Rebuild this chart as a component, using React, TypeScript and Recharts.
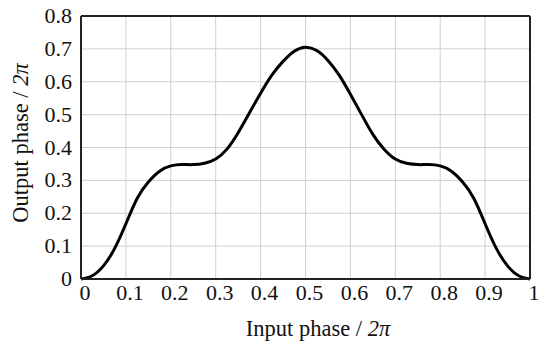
import {
  CartesianGrid,
  Line,
  LineChart,
  ReferenceLine,
  XAxis,
  YAxis
} from 'recharts';

const inputPhase = [
  0, 0.025, 0.05, 0.075, 0.1, 0.125, 0.15, 0.175, 0.2, 0.225, 0.25, 0.275, 0.3, 0.325, 0.35, 0.375, 0.4,
  0.425, 0.45, 0.475, 0.5, 0.525, 0.55, 0.575, 0.6, 0.625, 0.65, 0.675, 0.7, 0.725, 0.75, 0.775, 0.8,
  0.825, 0.85, 0.875, 0.9, 0.925, 0.95, 0.975, 1
];
const outputPhase = [
  0, 0.01, 0.04, 0.093, 0.168, 0.245, 0.295, 0.328, 0.344, 0.348, 0.348, 0.352, 0.365, 0.395, 0.445, 0.505, 0.565,
  0.62, 0.662, 0.693, 0.705, 0.695, 0.665, 0.62, 0.562, 0.5, 0.44, 0.395, 0.365, 0.352, 0.348, 0.348, 0.344,
  0.328, 0.295, 0.245, 0.168, 0.093, 0.04, 0.01, 0
];
const xTicks = [0, 0.1, 0.2, 0.3, 0.4, 0.5, 0.6, 0.7, 0.8, 0.9, 1];
const yTicks = [0, 0.1, 0.2, 0.3, 0.4, 0.5, 0.6, 0.7, 0.8];

const data = inputPhase.map((x, i) => ({ x, y: outputPhase[i] }));

const FONT = 'Liberation Serif, DejaVu Serif, serif';
const fmt = (v: number) => String(Math.round(v * 10) / 10);
const labelStyle = { fontFamily: FONT, fontSize: 22.5 };

function XTick({ x, y, payload }: any) {
  return (
    <text x={x + 4} y={y + 21} textAnchor="middle" fontFamily={FONT} fontSize={22} fill="#111">
      {fmt(payload.value)}
    </text>
  );
}

function YTick({ x, y, payload }: any) {
  return (
    <text x={x} y={y + 7} textAnchor="end" fontFamily={FONT} fontSize={22} fill="#111">
      {fmt(payload.value)}
    </text>
  );
}

function XLabel() {
  return (
    <text x={318} y={336} textAnchor="middle" style={labelStyle} fill="#111">
      Input phase / <tspan fontStyle="italic">2π</tspan>
    </text>
  );
}

function YLabel() {
  return (
    <text
      x={20}
      y={143}
      transform="rotate(-90 20 143)"
      textAnchor="middle"
      dominantBaseline="central"
      style={labelStyle}
      fill="#111"
    >
      Output phase / <tspan fontStyle="italic">2π</tspan>
    </text>
  );
}

export default function App() {
  return (
    <div style={{ position: 'absolute', left: 0, top: 0, background: '#fff', fontFamily: FONT }}>
      <LineChart
        width={541}
        height={342}
        data={data}
        margin={{ top: 16, right: 11, left: 0, bottom: 0 }}
      >
        <CartesianGrid stroke="#cfcfcf" strokeWidth={1} />
        <XAxis
          dataKey="x"
          type="number"
          domain={[0, 1]}
          ticks={xTicks}
          height={63}
          tickLine={false}
          tickSize={0}
          tickMargin={0}
          axisLine={{ stroke: '#222', strokeWidth: 2 }}
          tick={<XTick />}
          label={<XLabel />}
        />
        <YAxis
          type="number"
          domain={[0, 0.8]}
          ticks={yTicks}
          width={81}
          tickLine={false}
          tickSize={0}
          tickMargin={9}
          axisLine={{ stroke: '#222', strokeWidth: 2 }}
          tick={<YTick />}
          label={<YLabel />}
        />
        <ReferenceLine y={0.8} stroke="#222" strokeWidth={2} />
        <ReferenceLine x={1} stroke="#222" strokeWidth={2} />
        <Line
          type="natural"
          dataKey="y"
          stroke="#000"
          strokeWidth={3}
          dot={false}
          isAnimationActive={false}
        />
      </LineChart>
    </div>
  );
}
